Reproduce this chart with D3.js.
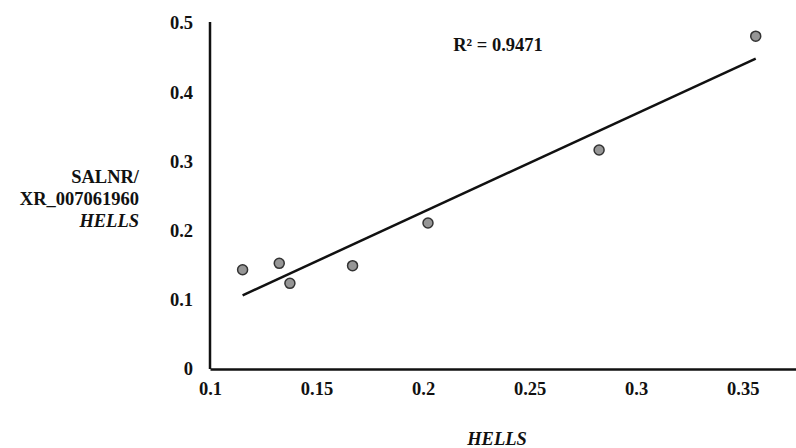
<!DOCTYPE html>
<html><head><meta charset="utf-8">
<script src="https://cdn.jsdelivr.net/npm/d3@7/dist/d3.min.js"></script>
<style>html,body{margin:0;padding:0;background:#fff;}</style>
</head>
<body><svg id="c" width="796" height="448"></svg>
<script>
const xValues = [0.1153, 0.1325, 0.1375, 0.1669, 0.2023, 0.2826, 0.3561];
const yValues = [0.1435, 0.1527, 0.1238, 0.1493, 0.2110, 0.3165, 0.4810];
const xTicks = [0.1, 0.15, 0.2, 0.25, 0.3, 0.35];
const yTicks = [0, 0.1, 0.2, 0.3, 0.4, 0.5];
const xTitle = "HELLS";
const yTitleLines = ["SALNR/", "XR_007061960", "HELLS"];
const r2Label = "R² = 0.9471";

const FONT = "'Liberation Serif'";
const FS = "18.5px";
const svg = d3.select("#c");
const x = d3.scaleLinear().domain([0.1, 0.375]).range([210, 796]);
const y = d3.scaleLinear().domain([0, 0.5]).range([369, 23]);

function styleText(sel) {
  return sel.style("font-family", FONT).style("font-weight", "bold").style("font-size", FS).style("fill", "#111");
}

const xAxis = svg.append("g").attr("transform", "translate(0,369)")
  .call(d3.axisBottom(x).tickValues(xTicks).tickSize(0).tickPadding(13).tickFormat(d3.format("")));
xAxis.select(".domain").attr("stroke", "#111").attr("stroke-width", 2.5);
styleText(xAxis.selectAll("text"));

const yAxis = svg.append("g").attr("transform", "translate(210,0)")
  .call(d3.axisLeft(y).tickValues(yTicks).tickSize(0).tickPadding(17).tickFormat(d3.format("")));
yAxis.select(".domain").attr("stroke", "#111").attr("stroke-width", 2.5).attr("d", "M0,22V369");
styleText(yAxis.selectAll("text"));

const n = xValues.length;
const mx = d3.mean(xValues), my = d3.mean(yValues);
let sxy = 0, sxx = 0;
for (let i = 0; i < n; i++) { sxy += (xValues[i]-mx)*(yValues[i]-my); sxx += (xValues[i]-mx)**2; }
const slope = sxy/sxx, intercept = my - slope*mx;
const x0 = d3.min(xValues), x1 = d3.max(xValues);
svg.append("line")
  .attr("x1", x(x0)).attr("y1", y(intercept + slope*x0))
  .attr("x2", x(x1)).attr("y2", y(intercept + slope*x1))
  .attr("stroke", "#111").attr("stroke-width", 2.5);

svg.append("g").selectAll("circle").data(xValues).join("circle")
  .attr("cx", (d) => x(d)).attr("cy", (d, i) => y(yValues[i]))
  .attr("r", 5).attr("fill", "#969696").attr("stroke", "#333").attr("stroke-width", 1.5);

styleText(svg.append("text").attr("x", 498).attr("y", 51).attr("text-anchor", "middle").text(r2Label));

styleText(svg.append("text").attr("x", 497).attr("y", 445).attr("text-anchor", "middle").text(xTitle))
  .style("font-style", "italic");

yTitleLines.forEach((t, i) => {
  styleText(svg.append("text").attr("x", 139).attr("y", 183 + i*22).attr("text-anchor", "end").text(t))
    .style("font-style", i === 2 ? "italic" : "normal");
});
</script></body></html>
